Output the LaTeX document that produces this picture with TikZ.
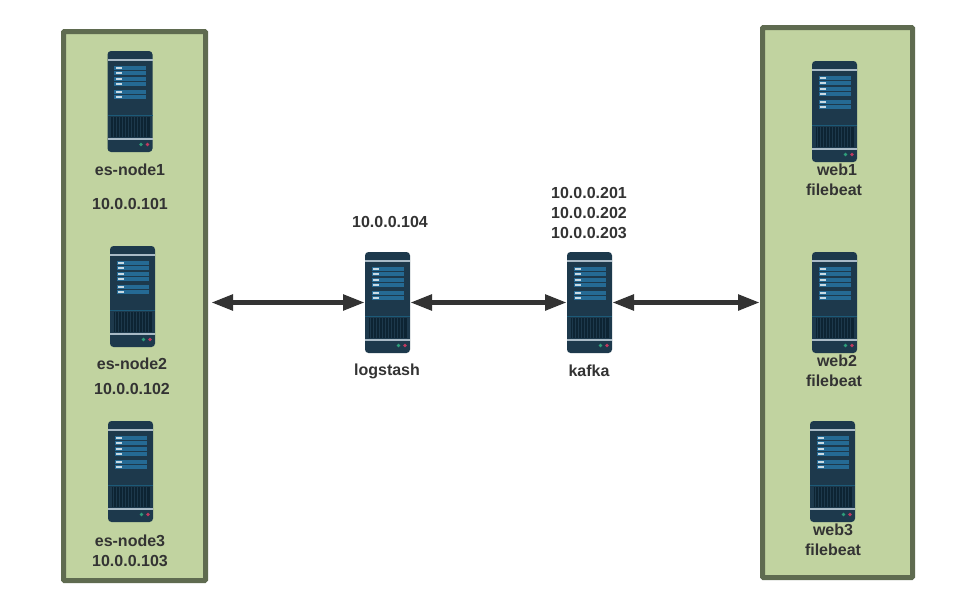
\documentclass[tikz,border=0pt]{standalone}
\usepackage{fontspec}
\setmainfont{Liberation Sans}
\usetikzlibrary{arrows.meta}
\definecolor{panelfill}{HTML}{C1D3A0}
\definecolor{paneledge}{HTML}{5F6B50}
\definecolor{srvbody}{HTML}{1D394C}
\definecolor{srvbar}{HTML}{256A94}
\definecolor{srvline}{HTML}{A9BAC6}
\definecolor{srvteal}{HTML}{1C5A78}
\definecolor{srvgrille}{HTML}{0D2433}
\definecolor{srvgreen}{HTML}{2E9E7A}
\definecolor{srvred}{HTML}{C0395F}
\definecolor{textdark}{HTML}{333333}
\tikzset{
  panel/.style={draw=paneledge,fill=panelfill,line width=5pt,rounded corners=1pt,anchor=north west,inner sep=0pt,outer sep=0pt},
  srvnode/.style={fill=srvbody,rounded corners=3.5pt,anchor=north west,minimum width=45pt,minimum height=101pt,inner sep=0pt,outer sep=0pt},
  label/.style={text=textdark,font=\bfseries\fontsize{16}{20}\selectfont,align=center,inner sep=0pt},
  link/.style={draw=textdark,line width=5.2pt,{Triangle[length=22pt,width=15pt]}-{Triangle[length=22pt,width=15pt]}},
}
\newcommand{\srvdraw}[3]{%
  \node[srvnode] (#1) at (#2,#3) {};
  \begin{scope}[shift={(#2,#3)}]
    \fill[srvline] (0,8.2) rectangle (45,10.2);
    \foreach \ya in {15,20,26,31,39,44}{
      \fill[srvbar] (6.5,\ya) rectangle (38.5,\ya+4);
      \fill[white!75!srvbar] (8,\ya+1.4) rectangle (14,\ya+2.6);
    }
    \fill[srvteal] (0,64) rectangle (45,65);
    \fill[srvgrille] (3.5,65.7) rectangle (42,86.4);
    \foreach \xa in {5.5,8.5,...,41}{
      \draw[srvbody,line width=0.8pt] (\xa,65.7) -- (\xa,86.4);
    }
    \fill[srvline] (0,87) rectangle (45,89);
    \fill[srvgreen] (33.5,93.5) circle (1.9);
    \fill[srvred] (40,93.5) circle (1.9);
  \end{scope}
}
\begin{document}
\begin{tikzpicture}[x=1pt,y=-1pt]
\useasboundingbox (0,0) rectangle (960,606);
\fill[white] (0,0) rectangle (960,606);
\node[panel,minimum width=142pt,minimum height=549pt] (left) at (63.5,31.5) {};
\node[panel,minimum width=150pt,minimum height=550pt] (right) at (762.5,27.5) {};
\srvdraw{es1}{107.5}{51}
\srvdraw{es2}{110}{246}
\srvdraw{es3}{108}{421}
\srvdraw{logstash}{365}{252}
\srvdraw{kafka}{567}{252}
\srvdraw{web1}{812}{61}
\srvdraw{web2}{812}{252}
\srvdraw{web3}{810}{421}
\node[label] (les1) at (130,170) {es-node1};
\node[label] (ipes1) at (130,204) {10.0.0.101};
\node[label] (les2) at (132,364) {es-node2};
\node[label] (ipes2) at (132,389) {10.0.0.102};
\node[label] (les3) at (130,551) {es-node3\\10.0.0.103};
\node[label] (iplog) at (390,222) {10.0.0.104};
\node[label] (ipkafka) at (589,213) {10.0.0.201\\10.0.0.202\\10.0.0.203};
\node[label] (llog) at (387,371) {logstash};
\node[label] (lkafka) at (589,371) {kafka};
\node[label] (lweb1) at (837,170) {web1};
\node[label] (fweb1) at (834,190) {filebeat};
\node[label] (lweb2) at (837,361) {web2};
\node[label] (fweb2) at (834,381) {filebeat};
\node[label] (lweb3) at (833,530) {web3};
\node[label] (fweb3) at (833,550) {filebeat};
\coordinate (lefta) at (211,302.5);
\draw[link] (lefta) -- (logstash.west);
\draw[link] (logstash.east) -- (kafka.west);
\draw[link] (kafka.east) -- ([xshift=-2.5pt]right.west |- kafka.east);
\end{tikzpicture}
\end{document}
